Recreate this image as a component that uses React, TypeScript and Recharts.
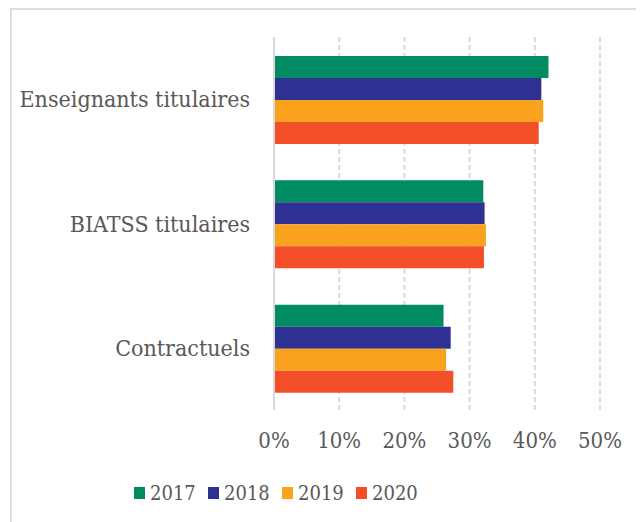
import { Bar, BarChart, CartesianGrid, Legend, XAxis, YAxis } from "recharts";

const categories = ["Enseignants titulaires", "BIATSS titulaires", "Contractuels"];
const years = ["2017", "2018", "2019", "2020"];
const colors = ["#008B62", "#2E3192", "#F9A21E", "#F24F28"];

const v2017 = [42.1, 32.1, 26.0];
const v2018 = [41.0, 32.3, 27.1];
const v2019 = [41.3, 32.5, 26.4];
const v2020 = [40.6, 32.2, 27.5];

const xTicks = [0, 10, 20, 30, 40, 50];

const FONT = '"DejaVu Serif Condensed", "DejaVu Serif", serif';
const TEXT = "#595959";

const data = categories.map((name, i) => ({
  name,
  "2017": v2017[i],
  "2018": v2018[i],
  "2019": v2019[i],
  "2020": v2020[i],
}));

function YearLegend() {
  return (
    <div style={{ display: "flex", paddingLeft: 122, fontFamily: FONT }}>
      {years.map((y, i) => (
        <div key={y} style={{ display: "flex", alignItems: "center", width: 74 }}>
          <span style={{ width: 11, height: 12, background: colors[i], marginRight: 5 }} />
          <span style={{ fontSize: 20, color: TEXT, lineHeight: "26px" }}>{y}</span>
        </div>
      ))}
    </div>
  );
}

export default function App() {
  return (
    <div
      style={{
        marginLeft: 2,
        width: 632,
        height: 512,
        borderTop: "2px solid #dcdcdc",
        borderLeft: "2px solid #dcdcdc",
        background: "#fff",
      }}
    >
      <BarChart
        width={632}
        height={512}
        layout="vertical"
        data={data}
        margin={{ top: 27, right: 44, left: 0, bottom: 12 }}
        barCategoryGap={19}
        barGap={0}
      >
        <CartesianGrid
          horizontal={false}
          stroke="#d9d9d9"
          strokeWidth={2}
          strokeDasharray="5 3"
        />
        <XAxis
          type="number"
          domain={[0, 50]}
          ticks={xTicks}
          tickFormatter={(v: number) => `${v}%`}
          axisLine={false}
          tickLine={false}
          tickSize={0}
          tickMargin={22}
          height={70}
          tick={{ fontSize: 22, fill: TEXT, fontFamily: FONT }}
        />
        <YAxis
          type="category"
          dataKey="name"
          width={262}
          tickLine={false}
          tickSize={0}
          tickMargin={24}
          axisLine={{ stroke: "#d9d9d9", strokeWidth: 2 }}
          tick={{ fontSize: 23, fill: TEXT, fontFamily: FONT }}
        />
        <Legend verticalAlign="bottom" height={30} content={<YearLegend />} />
        {years.map((y, i) => (
          <Bar key={y} dataKey={y} fill={colors[i]} isAnimationActive={false} />
        ))}
      </BarChart>
    </div>
  );
}
